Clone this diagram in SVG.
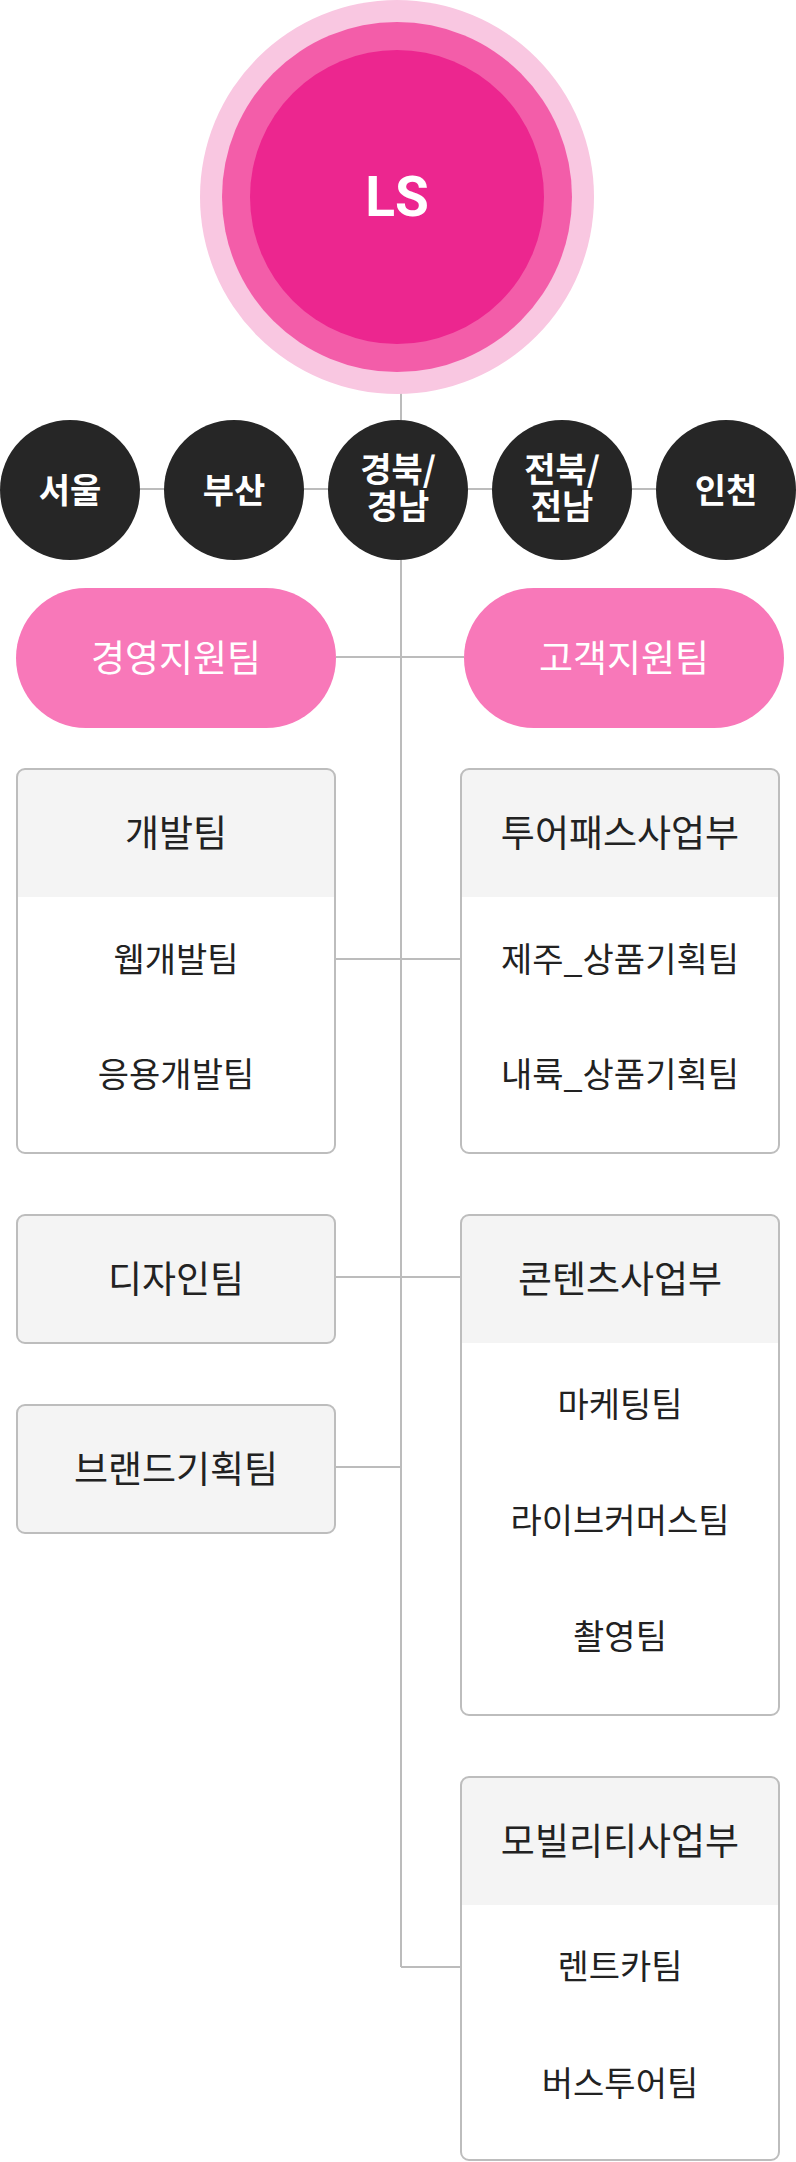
<svg xmlns="http://www.w3.org/2000/svg" width="796" height="2162" viewBox="0 0 796 2162">
<style>
.ln{stroke:#bcbcbc;stroke-width:2;fill:none}
.dark{fill:#262626}
.dt{font-family:"Noto Sans CJK KR","Noto Sans",sans-serif;font-weight:700;font-size:34px;fill:#fff;text-anchor:middle;dominant-baseline:central}
.pill{fill:#f878b9}
.pt{font-family:"Noto Sans CJK KR","Noto Sans",sans-serif;font-weight:400;font-size:37px;fill:#fff;text-anchor:middle;dominant-baseline:central}
.box{fill:#fff}
.hd{fill:#f4f4f4}
.bd{fill:none;stroke:#bdbdbd;stroke-width:2}
.ht{font-family:"Noto Sans CJK KR","Noto Sans",sans-serif;font-weight:400;font-size:37px;fill:#222;text-anchor:middle;dominant-baseline:central}
.it{font-family:"Noto Sans CJK KR","Noto Sans",sans-serif;font-weight:400;font-size:34px;fill:#222;text-anchor:middle;dominant-baseline:central}
</style>
<rect width="796" height="2162" fill="#fff"/>
<g id="connectors">
<line class="ln" x1="401" y1="390" x2="401" y2="1967"/>
<polyline class="ln" points="401,1967 461,1967"/>
<line class="ln" x1="70" y1="489" x2="726" y2="489"/>
<line class="ln" x1="336" y1="657" x2="464" y2="657"/>
<line class="ln" x1="335" y1="959" x2="461" y2="959"/>
<line class="ln" x1="335" y1="1277" x2="461" y2="1277"/>
<line class="ln" x1="335" y1="1467" x2="401" y2="1467"/>
</g>
<g id="ls">
<circle cx="397" cy="197" r="197" fill="#f9c7e1"/>
<circle cx="397" cy="197" r="175" fill="#f35da9"/>
<circle cx="397" cy="197" r="147" fill="#ec268f"/>
<text x="397" y="216" font-family="Roboto,'Liberation Sans',sans-serif" font-weight="700" font-size="55" fill="#fff" text-anchor="middle">LS</text>
</g>
<g id="seoul"><circle class="dark" cx="70" cy="490" r="70"/><text class="dt" x="70" y="488">서울</text></g>
<g id="busan"><circle class="dark" cx="234" cy="490" r="70"/><text class="dt" x="234" y="488">부산</text></g>
<g id="gyeongbuk"><circle class="dark" cx="398" cy="490" r="70"/><text class="dt" x="398" y="467">경북/<tspan x="398" dy="37">경남</tspan></text></g>
<g id="jeonbuk"><circle class="dark" cx="562" cy="490" r="70"/><text class="dt" x="562" y="467">전북/<tspan x="562" dy="37">전남</tspan></text></g>
<g id="incheon"><circle class="dark" cx="726" cy="490" r="70"/><text class="dt" x="726" y="488">인천</text></g>
<g id="mgmt"><rect class="pill" x="16" y="588" width="320" height="140" rx="70"/><text class="pt" x="176" y="656">경영지원팀</text></g>
<g id="cs"><rect class="pill" x="464" y="588" width="320" height="140" rx="70"/><text class="pt" x="624" y="656">고객지원팀</text></g>
<g id="dev">
<rect class="box" x="17" y="769" width="318" height="384" rx="8"/>
<path class="hd" d="M17,897 V777 A8,8 0 0 1 25,769 H327 A8,8 0 0 1 335,777 V897 Z"/>
<rect class="bd" x="17" y="769" width="318" height="384" rx="8"/>
<text class="ht" x="176" y="831">개발팀</text>
<text class="it" x="176" y="957">웹개발팀</text>
<text class="it" x="176" y="1072">응용개발팀</text>
</g>
<g id="tourpass">
<rect class="box" x="461" y="769" width="318" height="384" rx="8"/>
<path class="hd" d="M461,897 V777 A8,8 0 0 1 469,769 H771 A8,8 0 0 1 779,777 V897 Z"/>
<rect class="bd" x="461" y="769" width="318" height="384" rx="8"/>
<text class="ht" x="620" y="831">투어패스사업부</text>
<text class="it" x="620" y="957">제주_상품기획팀</text>
<text class="it" x="620" y="1072">내륙_상품기획팀</text>
</g>
<g id="design">
<rect class="hd" x="17" y="1215" width="318" height="128" rx="8"/>
<rect class="bd" x="17" y="1215" width="318" height="128" rx="8"/>
<text class="ht" x="176" y="1277">디자인팀</text>
</g>
<g id="contents">
<rect class="box" x="461" y="1215" width="318" height="500" rx="8"/>
<path class="hd" d="M461,1343 V1223 A8,8 0 0 1 469,1215 H771 A8,8 0 0 1 779,1223 V1343 Z"/>
<rect class="bd" x="461" y="1215" width="318" height="500" rx="8"/>
<text class="ht" x="620" y="1277">콘텐츠사업부</text>
<text class="it" x="620" y="1402">마케팅팀</text>
<text class="it" x="620" y="1518">라이브커머스팀</text>
<text class="it" x="620" y="1634">촬영팀</text>
</g>
<g id="brand">
<rect class="hd" x="17" y="1405" width="318" height="128" rx="8"/>
<rect class="bd" x="17" y="1405" width="318" height="128" rx="8"/>
<text class="ht" x="176" y="1467">브랜드기획팀</text>
</g>
<g id="mobility">
<rect class="box" x="461" y="1777" width="318" height="383" rx="8"/>
<path class="hd" d="M461,1905 V1785 A8,8 0 0 1 469,1777 H771 A8,8 0 0 1 779,1785 V1905 Z"/>
<rect class="bd" x="461" y="1777" width="318" height="383" rx="8"/>
<text class="ht" x="620" y="1839">모빌리티사업부</text>
<text class="it" x="620" y="1964">렌트카팀</text>
<text class="it" x="620" y="2081">버스투어팀</text>
</g>
</svg>
